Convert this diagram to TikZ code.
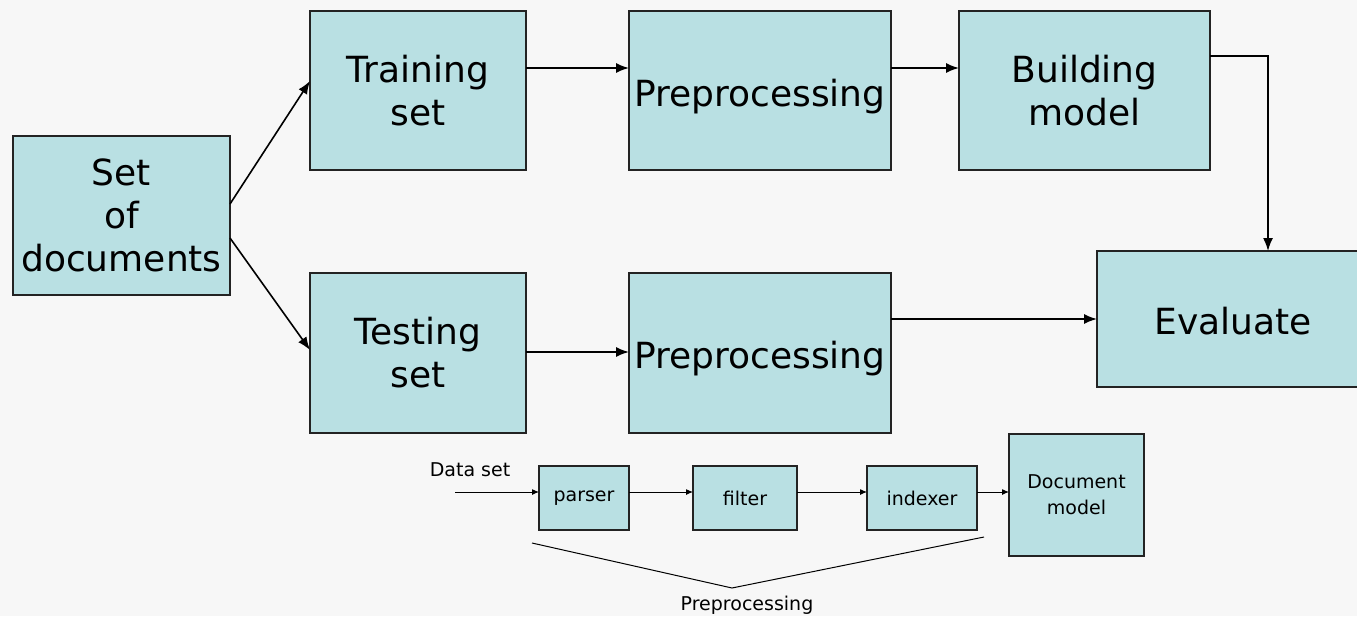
\documentclass[tikz,border=0pt]{standalone}
\usepackage{fontspec}
\setmainfont{DejaVu Sans}
\usetikzlibrary{arrows.meta}
\definecolor{boxfill}{RGB}{185,224,227}
\definecolor{bg}{RGB}{247,247,247}
\definecolor{boxline}{RGB}{35,35,35}
\tikzset{
  bigbox/.style={draw=boxline, line width=1.4pt, fill=boxfill, inner sep=0pt, outer sep=0pt,
    align=center, font=\fontsize{36}{43}\selectfont},
  onelinebox/.style={text height=31pt, text depth=0pt},
  smallbox/.style={draw=boxline, line width=1.1pt, fill=boxfill, inner sep=0pt, outer sep=0pt,
    align=center, font=\fontsize{19}{26}\selectfont},
  bigarrow/.style={line width=1.6pt, -{Latex[length=13pt,width=10pt]}},
  smallarrow/.style={line width=1pt, -{Latex[length=7pt,width=6pt]}},
  plainline/.style={line width=1pt},
  smalltext/.style={font=\fontsize{19}{26}\selectfont, inner sep=0pt}
}
\begin{document}
\begin{tikzpicture}[x=1pt,y=-1pt]
\fill[bg] (0,0) rectangle (1357,616);
\useasboundingbox (0,0) rectangle (1357,616);
% big boxes
\node[bigbox, minimum width=217pt, minimum height=159pt] (set) at (121.5,215.5) {Set\\of\\documents};
\node[bigbox, minimum width=216pt, minimum height=159pt] (train) at (418,90.5) {Training\\set};
\node[bigbox, onelinebox, minimum width=262pt, minimum height=159pt] (pre1) at (760,90.5) {Preprocessing};
\node[bigbox, minimum width=251pt, minimum height=159pt] (build) at (1084.5,90.5) {Building\\model};
\node[bigbox, minimum width=216pt, minimum height=160pt] (test) at (418,353) {Testing\\set};
\node[bigbox, onelinebox, minimum width=262pt, minimum height=160pt] (pre2) at (760,353) {Preprocessing};
\node[bigbox, onelinebox, minimum width=272pt, minimum height=136pt] (eval) at (1233,319) {Evaluate};
% big connectors
\draw[bigarrow] ([yshift=11.5pt]set.east) -- ([yshift=9.5pt]train.west);
\draw[bigarrow] ([yshift=-22.5pt]set.east) -- ([yshift=3pt]test.west);
\draw[bigarrow] ([yshift=22.5pt]train.east) -- ([yshift=22.5pt]pre1.west);
\draw[bigarrow] ([yshift=22.5pt]pre1.east) -- ([yshift=22.5pt]build.west);
\draw[bigarrow] ([yshift=34.5pt]build.east) -| ([xshift=35pt]eval.north);
\draw[bigarrow] ([yshift=1pt]test.east) -- ([yshift=1pt]pre2.west);
\draw[bigarrow] ([yshift=34pt]pre2.east) -- (eval.west);
% small pipeline
\node[smallbox, minimum width=90pt, minimum height=64pt] (parser) at (584,498) {parser};
\node[smallbox, minimum width=104pt, minimum height=64pt] (filter) at (745,498) {filter};
\node[smallbox, minimum width=110pt, minimum height=64pt] (indexer) at (922,498) {indexer};
\node[smallbox, minimum width=135pt, minimum height=122pt] (docmodel) at (1076.5,495) {Document\\model};
\node[smalltext] (dslabel) at (470,470) {Data set};
\coordinate (dsstart) at (455,492);
\draw[smallarrow] (dsstart) -- ([yshift=6pt]parser.west);
\draw[smallarrow] ([yshift=6pt]parser.east) -- ([yshift=6pt]filter.west);
\draw[smallarrow] ([yshift=6pt]filter.east) -- ([yshift=6pt]indexer.west);
\draw[smallarrow] ([yshift=6pt]indexer.east) -- ([yshift=3pt]docmodel.west);
% bracket
\coordinate (brl) at (532,543);
\coordinate (brm) at (732,588);
\coordinate (brr) at (984,537);
\draw[plainline] (brl) -- (brm) -- (brr);
\node[smalltext] (prelabel) at (747,605) {Preprocessing};
\end{tikzpicture}
\end{document}
